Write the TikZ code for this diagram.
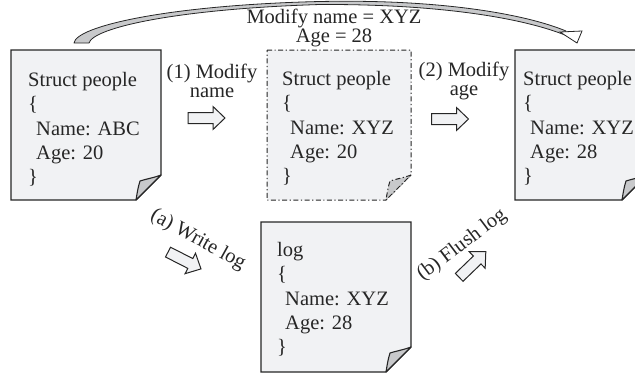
\documentclass[tikz,border=0pt]{standalone}
\usepackage{fontspec}
\setmainfont{Liberation Serif}
\definecolor{docfill}{HTML}{F1F2F4}
\definecolor{foldfill}{HTML}{C8C9CB}
\definecolor{linec}{HTML}{262626}
\tikzset{
  doc/.style={draw=linec, line width=1.1pt, fill=docfill, line join=miter},
  fold/.style={draw=linec, line width=1.1pt, fill=foldfill, line join=round},
  dashdot/.style={line width=1pt, dash pattern=on 5pt off 2.5pt on 1.2pt off 2.5pt},
  doctext/.style={anchor=north west, inner sep=0pt, align=left, text=linec,
    font=\fontsize{20.5}{24.3}\selectfont},
  lbl/.style={inner sep=0pt, align=center, text=linec, font=\fontsize{20.5}{19.5}\selectfont},
  blockarrow/.pic={\draw[draw=linec, line width=1pt, fill=docfill, line join=miter]
    (-18.5,-5.5) -- (6.5,-5.5) -- (6.5,-11.5) -- (18.5,0) -- (6.5,11.5) -- (6.5,5.5) -- (-18.5,5.5) -- cycle;},
}
\newcommand\paperdoc[5]{% #1 extra style, #2 L, #3 T, #4 R, #5 B
  \path[doc,#1] (#2,#3) -- (#4,#3) -- (#4,#5-25) -- (#4-25,#5) -- (#2,#5) -- cycle;
  \path[fold,#1] (#4,#5-25) .. controls (#4-8,#5-22) and (#4-15,#5-21) .. (#4-21,#5-19)
     .. controls (#4-23,#5-13) and (#4-24,#5-6) .. (#4-25,#5) -- cycle;
}
\begin{document}
\begin{tikzpicture}[x=1pt, y=-1pt]
  \useasboundingbox (0,0) rectangle (635,375);
  \clip (0,0) rectangle (635,375);

  % documents
  \paperdoc{}{11}{50}{161}{200}
  \paperdoc{dashdot}{267}{50}{411}{200}
  \paperdoc{}{515}{50}{647}{200}
  \paperdoc{}{261}{222}{411}{372}

  \node[doctext] (t1) at (28,72) {Struct people\\\{\\\hspace*{8pt}Name: ABC\\\hspace*{8pt}Age: 20\\\}};
  \node[doctext] (t2) at (282,71) {Struct people\\\{\\\hspace*{8pt}Name: XYZ\\\hspace*{8pt}Age: 20\\\}};
  \node[doctext] (t3) at (523,71) {Struct people\\\{\\\hspace*{7pt}Name: XYZ\\\hspace*{7pt}Age: 28\\\}};
  \node[doctext] (t4) at (277,242) {log\\\{\\\hspace*{8pt}Name: XYZ\\\hspace*{8pt}Age: 28\\\}};

  % labels
  \node[lbl] (l1) at (212,81) {(1) Modify\\name};
  \node[lbl] (l2) at (464,81) {(2) Modify\\age};
  \node[lbl] (l0) at (334,28) {Modify name = XYZ\\Age = 28};
  \node[lbl, rotate=-29] (la) at (198,240) {(a) Write log};
  \node[lbl, rotate=37] (lb) at (462,245) {(b) Flush log};

  % block arrows
  \pic at (206.5,118) {blockarrow};
  \pic at (450,119) {blockarrow};
  \pic[rotate=-27] at (184.5,260.5) {blockarrow};
  \pic[rotate=44] at (472.5,264.5) {blockarrow};

  % curved tapered arrow
  \draw[draw=linec, line width=0.8pt, fill=foldfill, line join=round]
    (74,43) .. controls (76,26) and (170,5) .. (320,1.5)
    .. controls (440,-1) and (525,14) .. (566,31)
    -- (565,35) .. controls (522,18) and (440,4) .. (320,4.5)
    .. controls (175,9) and (93,28) .. (89,43) -- cycle;
  \draw[draw=linec, line width=0.8pt, fill=white, line join=miter]
    (560,32) -- (582,31) -- (577,43) -- cycle;
\end{tikzpicture}
\end{document}
